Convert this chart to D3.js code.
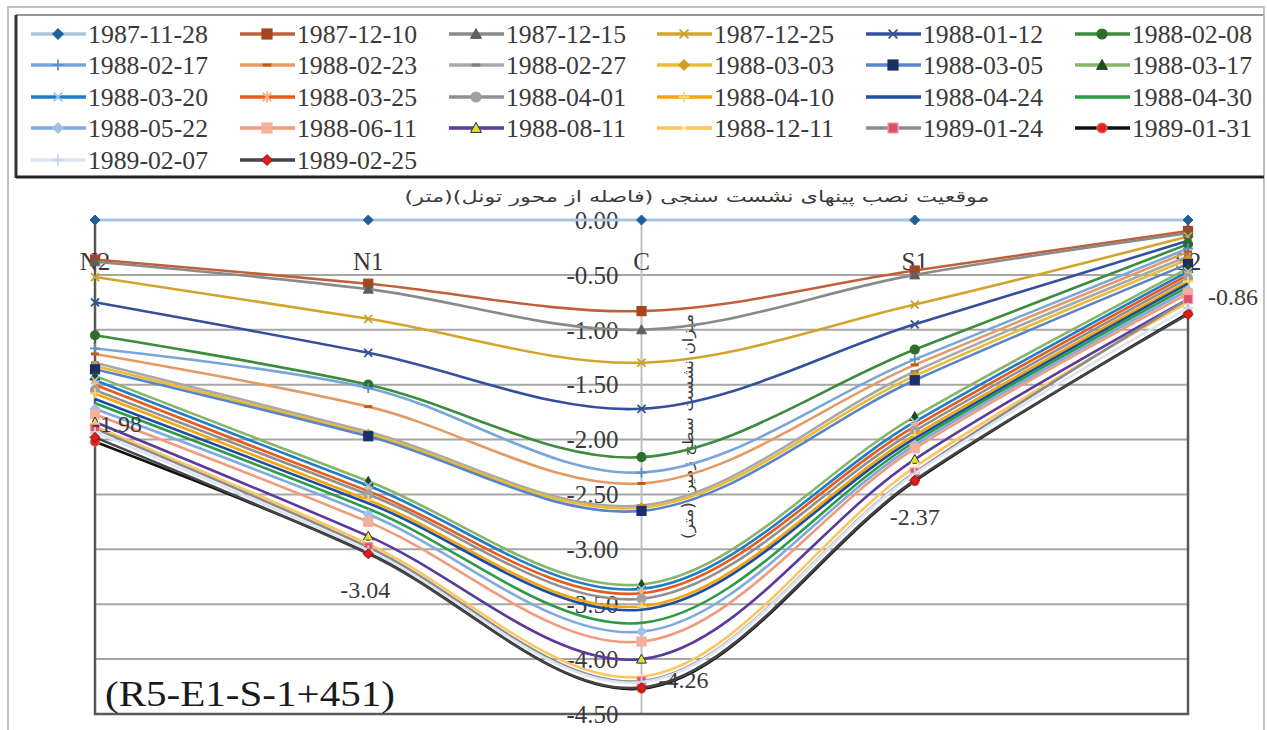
<!DOCTYPE html>
<html><head><meta charset="utf-8">
<script src="https://cdn.jsdelivr.net/npm/d3@7"></script>
<style>body{margin:0;background:#fff}svg{display:block}</style>
</head><body>
<svg id="chart" width="1267" height="730"></svg>
<script>
// ---------- data ----------
const categories = ["N2", "N1", "C", "S1", "S2"];
const seriesNames = [
  "1987-11-28","1987-12-10","1987-12-15","1987-12-25","1988-01-12","1988-02-08",
  "1988-02-17","1988-02-23","1988-02-27","1988-03-03","1988-03-05","1988-03-17",
  "1988-03-20","1988-03-25","1988-04-01","1988-04-10","1988-04-24","1988-04-30",
  "1988-05-22","1988-06-11","1988-08-11","1988-12-11","1989-01-24","1989-01-31",
  "1989-02-07","1989-02-25"
];
const seriesValues = [
  [0, 0, 0, 0, 0],
  [-0.36, -0.58, -0.83, -0.46, -0.10],
  [-0.38, -0.63, -1.00, -0.50, -0.12],
  [-0.52, -0.90, -1.30, -0.77, -0.15],
  [-0.75, -1.21, -1.72, -0.95, -0.19],
  [-1.05, -1.50, -2.16, -1.18, -0.22],
  [-1.17, -1.53, -2.30, -1.27, -0.26],
  [-1.22, -1.70, -2.40, -1.32, -0.29],
  [-1.30, -1.93, -2.60, -1.38, -0.33],
  [-1.33, -1.95, -2.62, -1.42, -0.36],
  [-1.36, -1.97, -2.65, -1.46, -0.40],
  [-1.42, -2.38, -3.32, -1.79, -0.44],
  [-1.46, -2.42, -3.36, -1.84, -0.47],
  [-1.50, -2.47, -3.40, -1.88, -0.50],
  [-1.55, -2.50, -3.45, -1.92, -0.53],
  [-1.58, -2.55, -3.52, -1.96, -0.56],
  [-1.63, -2.58, -3.55, -1.99, -0.58],
  [-1.67, -2.63, -3.67, -2.02, -0.61],
  [-1.72, -2.68, -3.75, -2.05, -0.64],
  [-1.77, -2.75, -3.84, -2.08, -0.67],
  [-1.84, -2.88, -4.00, -2.18, -0.72],
  [-1.88, -2.95, -4.16, -2.25, -0.75],
  [-1.90, -2.98, -4.20, -2.30, -0.72],
  [-2.02, -3.03, -4.27, -2.38, -0.85],
  [-1.93, -3.01, -4.21, -2.31, -0.80],
  [-1.98, -3.04, -4.26, -2.37, -0.86]
];
const yTicks = [0, -0.5, -1, -1.5, -2, -2.5, -3, -3.5, -4, -4.5];
const labelledSeries = 25; // index of series whose values are labelled
const chartTitle = "موقعیت نصب پینهای نشست سنجی (فاصله از محور تونل)(متر)";
const yTitle = "میزان نشست سطح زمین (متر)";
const sectionName = "(R5-E1-S-1+451)";

// ---------- styles ----------
const lineColors = ["#a9c4df","#c0603a","#8a8a8a","#d1a52c","#34509c","#3d8b3d",
  "#79a6d8","#e39a64","#a8a8a8","#e8bc34","#5b84c8","#86b56a",
  "#1f7cc6","#e85a1c","#8f8f8f","#f5a40c","#1d4e9e","#2e9a48",
  "#7eaadd","#f29b7c","#5a3a9a","#ffc55c","#8c8c8c","#111111",
  "#dbe5f1","#454545"];
const markerShapes = ["diamond","square","triangle","x","x","circle",
  "plus","dash","dash","diamond","square","triangle",
  "x","star","circle","plus","none","none",
  "diamond","square","triangle","x","square","circle",
  "plus","diamond"];
const markerFills = ["#1f6099","#a5451f","#5f5f5f","#c9a02b","#2f5597","#2d6e2d",
  "#5b8fcc","#c55a11","#7f7f7f","#d99a1c","#1a2f6a","#1e4d23",
  "#9dc3e6","#f4b183","#a0a0a0","#ffd966","#000","#000",
  "#9dc3e6","#f4b09a","#e8e020","#fff2cc","#e0506a","#e82020",
  "#c5d8ee","#e01b1b"];
const markerStrokes = {20:"#203060", 22:"#f4a0a0", 23:"#c08060", 25:"#8b1010"};
const fmt = v => v.toFixed(2);

const svg = d3.select("#chart");
const x = d3.scalePoint().domain(categories).range([95, 1188]);
const y = d3.scaleLinear().domain([0, -4.5]).range([220, 714]);

// outer frame
svg.append("rect").attr("x",8).attr("y",7).attr("width",1256).attr("height",740)
  .attr("fill","none").attr("stroke","#bfbfbf").attr("stroke-width",2);

// legend box
const lg = svg.append("g");
lg.append("line").attr("x1",16).attr("x2",1264).attr("y1",15).attr("y2",15).attr("stroke","#999").attr("stroke-width",2);
lg.append("line").attr("x1",1264).attr("x2",1264).attr("y1",15).attr("y2",178).attr("stroke","#bbb").attr("stroke-width",2);
lg.append("line").attr("x1",16).attr("x2",16).attr("y1",15).attr("y2",178).attr("stroke","#333").attr("stroke-width",3);
lg.append("line").attr("x1",16).attr("x2",1264).attr("y1",177).attr("y2",177).attr("stroke","#222").attr("stroke-width",3);

function drawMarker(g, cx, cy, i, s) {
  const shape = markerShapes[i], fill = markerFills[i], st = markerStrokes[i];
  if (shape === "none") return;
  if (shape === "diamond") {
    g.append("path").attr("d", `M${cx},${cy-s}L${cx+s},${cy}L${cx},${cy+s}L${cx-s},${cy}Z`)
      .attr("fill", fill).attr("stroke", st || fill).attr("stroke-width", 1);
  } else if (shape === "square") {
    g.append("rect").attr("x", cx-s+0.5).attr("y", cy-s+0.5).attr("width", 2*s-1).attr("height", 2*s-1)
      .attr("fill", fill).attr("stroke", st || fill).attr("stroke-width", 1.2);
  } else if (shape === "triangle") {
    g.append("path").attr("d", `M${cx},${cy-s}L${cx+s},${cy+s*0.8}L${cx-s},${cy+s*0.8}Z`)
      .attr("fill", fill).attr("stroke", st || fill).attr("stroke-width", 1);
  } else if (shape === "circle") {
    g.append("circle").attr("cx", cx).attr("cy", cy).attr("r", s-0.5)
      .attr("fill", fill).attr("stroke", st || fill).attr("stroke-width", 1.2);
  } else if (shape === "x" || shape === "star") {
    const k = s*0.8;
    let d = `M${cx-k},${cy-k}L${cx+k},${cy+k}M${cx-k},${cy+k}L${cx+k},${cy-k}`;
    if (shape === "star") d += `M${cx},${cy-s}L${cx},${cy+s}`;
    g.append("path").attr("d", d).attr("stroke", fill).attr("stroke-width", 1.8).attr("fill","none");
  } else if (shape === "plus") {
    g.append("path").attr("d", `M${cx-s},${cy}L${cx+s},${cy}M${cx},${cy-s}L${cx},${cy+s}`)
      .attr("stroke", fill).attr("stroke-width", 1.8).attr("fill","none");
  } else if (shape === "dash") {
    g.append("path").attr("d", `M${cx-s*0.8},${cy}L${cx+s*0.8},${cy}`)
      .attr("stroke", fill).attr("stroke-width", 3);
  }
}

// legend items
const colX = [31, 240, 449, 657, 866, 1075];
const rowY = [34, 65, 97, 128, 160];
seriesNames.forEach((name, i) => {
  const cx = colX[i % 6], cy = rowY[Math.floor(i / 6)];
  const g = lg.append("g");
  g.append("line").attr("x1", cx).attr("x2", cx + 55).attr("y1", cy).attr("y2", cy)
    .attr("stroke", lineColors[i]).attr("stroke-width", 3.5);
  drawMarker(g, cx + 27, cy, i, 5.5);
  g.append("text").attr("x", cx + 57).attr("y", cy).attr("dy", "0.35em")
    .attr("font-family", "Liberation Serif").attr("font-size", 25).attr("fill", "#3a3a3a")
    .attr("textLength", 120).attr("lengthAdjust", "spacingAndGlyphs").text(name);
});

// title
svg.append("text").attr("x", 697).attr("y", 196).attr("dy", "0.35em").attr("text-anchor", "middle")
  .attr("font-family", "DejaVu Sans").attr("font-size", 16).attr("fill", "#3a3a3a")
  .attr("textLength", 585).attr("lengthAdjust", "spacingAndGlyphs").text(chartTitle);

// gridlines
svg.append("g").selectAll("line").data(yTicks.filter(t => t !== 0)).join("line")
  .attr("x1", x("N2")).attr("x2", x("S2")).attr("y1", d => y(d)).attr("y2", d => y(d))
  .attr("stroke", "#a6a6a6").attr("stroke-width", 2);

// vertical axis through C
svg.append("line").attr("x1", x("C")).attr("x2", x("C")).attr("y1", y(0)).attr("y2", y(-4.5))
  .attr("stroke", "#bfbfbf").attr("stroke-width", 2);

// plot frame
svg.append("path").attr("d", `M${x("N2")},${y(0)}V${y(-4.5)}H${x("S2")}V${y(0)}`)
  .attr("fill", "none").attr("stroke", "#595959").attr("stroke-width", 2.5);

// y tick labels
svg.append("g").selectAll("text").data(yTicks).join("text")
  .attr("x", x("C") - 23).attr("y", d => y(d)).attr("dy", "0.35em").attr("text-anchor", "end")
  .attr("font-family", "Liberation Serif").attr("font-size", 25).attr("fill", "#3a3a3a")
  .text(d => fmt(d));

// y axis title (rotated)
svg.append("text").attr("transform", `translate(${x("C") + 46},${y(-1.88)}) rotate(-90)`)
  .attr("text-anchor", "middle").attr("dy", "0.35em")
  .attr("font-family", "DejaVu Sans").attr("font-size", 15).attr("fill", "#3a3a3a")
  .attr("textLength", 225).attr("lengthAdjust", "spacingAndGlyphs").text(yTitle);

// category labels
svg.append("g").selectAll("text").data(categories).join("text")
  .attr("x", d => x(d)).attr("y", y(-0.38)).attr("dy", "0.35em").attr("text-anchor", "middle")
  .attr("font-family", "Liberation Serif").attr("font-size", 25).attr("fill", "#3a3a3a")
  .text(d => d);

// series lines
const lineGen = d3.line().x((d, j) => x(categories[j])).y(d => y(d)).curve(d3.curveCatmullRom.alpha(0.5));
const sg = svg.append("g");
seriesValues.forEach((vals, i) => {
  sg.append("path").attr("d", lineGen(vals)).attr("fill", "none")
    .attr("stroke", lineColors[i]).attr("stroke-width", i === 0 ? 3 : 2.6);
  vals.forEach((v, j) => drawMarker(sg, x(categories[j]), y(v), i, 5));
});

// data labels for the last series
const labelOffsets = [[22, -14], [-3, 36], [42, -8], [0, 36], [45, -18]];
const lab = svg.append("g");
seriesValues[labelledSeries].forEach((v, j) => {
  lab.append("text").attr("x", x(categories[j]) + labelOffsets[j][0]).attr("y", y(v) + labelOffsets[j][1])
    .attr("dy", "0.35em").attr("text-anchor", "middle")
    .attr("font-family", "Liberation Serif").attr("font-size", 24).attr("fill", "#3a3a3a")
    .text(fmt(v));
});

// section name
svg.append("text").attr("x", 105).attr("y", 693).attr("dy", "0.35em")
  .attr("font-family", "Liberation Serif").attr("font-size", 36).attr("fill", "#1a1a1a")
  .attr("textLength", 290).attr("lengthAdjust", "spacingAndGlyphs").text(sectionName);
</script>
</body></html>
